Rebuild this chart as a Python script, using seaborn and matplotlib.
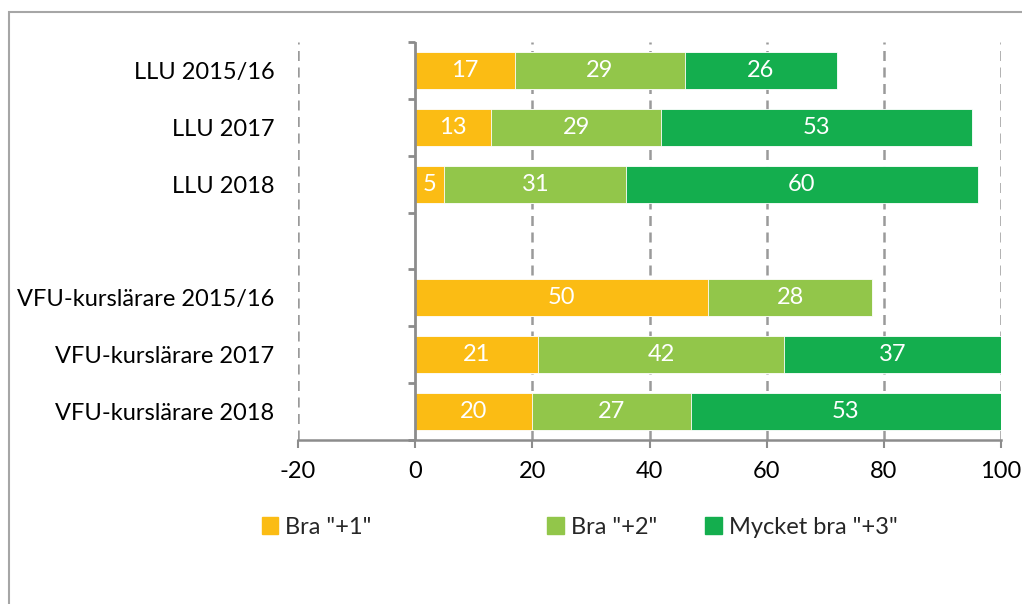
import numpy as np
import pandas as pd
import seaborn as sns
import matplotlib.pyplot as plt
from matplotlib.patches import Rectangle

categories = ['LLU 2015/16', 'LLU 2017', 'LLU 2018', ' ',
              'VFU-kurslärare 2015/16', 'VFU-kurslärare 2017', 'VFU-kurslärare 2018']
bra1 = [17, 13, 5, np.nan, 50, 21, 20]
bra2 = [29, 29, 31, np.nan, 28, 42, 27]
bra3 = [26, 53, 60, np.nan, np.nan, 37, 53]
series_names = ['Bra "+1"', 'Bra "+2"', 'Mycket bra "+3"']
colors = ['#FBBC14', '#92C64A', '#14AE4E']
xticks = [-20, 0, 20, 40, 60, 80, 100]

sns.set_theme(style='white')
plt.rcParams['font.family'] = ['Lato', 'DejaVu Sans']

df = pd.DataFrame({'kat': categories, 'b1': bra1, 'b2': bra2, 'b3': bra3})
df['c1'] = df['b1'].fillna(0)
df['c2'] = df['c1'] + df['b2'].fillna(0)
df['c3'] = df['c2'] + df['b3'].fillna(0)
df.loc[df['kat'] == ' ', ['c1', 'c2', 'c3']] = np.nan

fig = plt.figure(figsize=(10.22, 6.04), dpi=100)
ax = fig.add_axes([0.2916, 0.2715, 0.6879, 0.659])

# stacked bars drawn as cumulative totals, largest first
for col, color in zip(['c3', 'c2', 'c1'], colors[::-1]):
    sns.barplot(data=df, x=col, y='kat', order=categories, color=color,
                width=0.65, edgecolor='white', linewidth=0.6, ax=ax,
                saturation=1, errorbar=None)

# value labels
for i, row in df.iterrows():
    start = 0
    for v in [row['b1'], row['b2'], row['b3']]:
        if pd.notna(v):
            ax.text(start + v / 2, i, f'{int(v)}', ha='center', va='center',
                    color='white', fontsize=17)
            start += v

ax.set_xlim(-20, 100)
ax.set_ylim(6.5, -0.5)
ax.set_xticks(xticks)
ax.set_xticklabels([str(t) for t in xticks], fontsize=17, color='black')
ax.set_xlabel('')
ax.set_ylabel('')

for x in xticks:
    if x != 0:
        ax.axvline(x, color='#9a9a9a', linestyle=(0, (4, 2.6)), linewidth=1.8, zorder=0)
ax.axvline(0, color='#8c8c8c', linewidth=2, zorder=3)
ax.hlines(np.arange(-0.5, 7, 1), -1.2, 0, color='#8c8c8c', linewidth=2, clip_on=False)

for s in ['top', 'right', 'left']:
    ax.spines[s].set_visible(False)
ax.spines['bottom'].set_color('#8c8c8c')
ax.spines['bottom'].set_linewidth(1.8)
ax.tick_params(axis='x', length=6, width=1.5, color='#8c8c8c', pad=9, direction='out', bottom=True)
ax.tick_params(axis='y', length=0, pad=17, labelsize=17, labelcolor='black')

legend_x = [0.247, 0.526, 0.681]
for name, color, lx in zip(series_names, colors, legend_x):
    fig.legend([Rectangle((0, 0), 1, 1, color=color)], [name], loc='center left',
               bbox_to_anchor=(lx, 0.127), frameon=False, fontsize=17,
               handlelength=0.7, handleheight=0.7, handletextpad=0.3, borderaxespad=0)

fig.patches.append(Rectangle((0.009, -0.1), 1.2, 1.08, transform=fig.transFigure,
                             fill=False, edgecolor='#a6a6a6', linewidth=1.5))

fig.savefig('out.png', dpi=100)
